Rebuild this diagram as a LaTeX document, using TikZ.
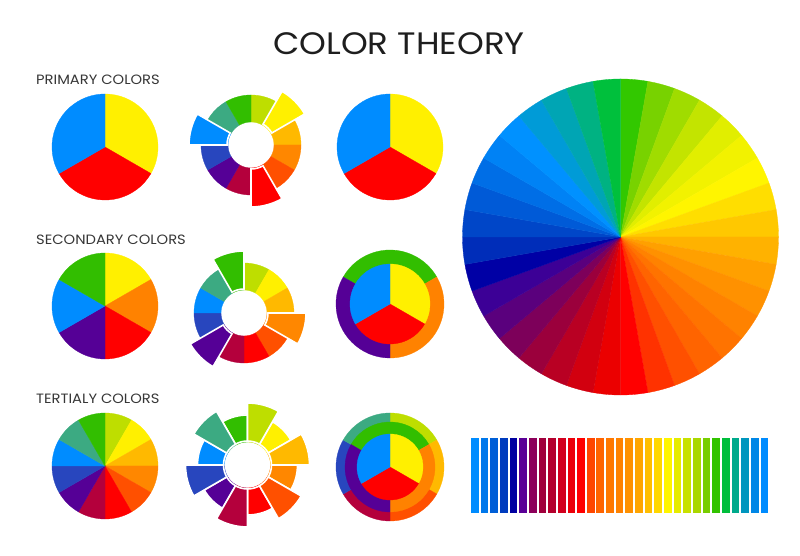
\documentclass[tikz,border=0pt]{standalone}
\usepackage{fontspec}
\setmainfont{Poppins}
\definecolor{t0}{RGB}{190,222,0}
\definecolor{t1}{RGB}{255,240,0}
\definecolor{t2}{RGB}{255,185,0}
\definecolor{t3}{RGB}{255,135,0}
\definecolor{t4}{RGB}{255,80,0}
\definecolor{t5}{RGB}{255,0,0}
\definecolor{t6}{RGB}{180,0,60}
\definecolor{t7}{RGB}{85,0,150}
\definecolor{t8}{RGB}{40,70,190}
\definecolor{t9}{RGB}{0,140,255}
\definecolor{t10}{RGB}{60,170,130}
\definecolor{t11}{RGB}{50,190,0}
\definecolor{pY}{RGB}{255,240,0}
\definecolor{pR}{RGB}{255,0,0}
\definecolor{pB}{RGB}{0,140,255}
\definecolor{sO}{RGB}{255,130,0}
\definecolor{sP}{RGB}{85,0,150}
\definecolor{sG}{RGB}{50,190,0}
\definecolor{txt}{RGB}{30,30,30}
\definecolor{txtl}{RGB}{55,55,55}
% pie wedge: color, cx, cy, a1, a2, r
\newcommand\pieseg[6]{\path[fill=#1,draw=#1,line width=0.3pt,shift={(#2,#3)}] (0,0) -- (#4:#6pt) arc[start angle=#4,end angle=#5,radius=#6pt] -- cycle;}
% ring segment: color, cx, cy, a1, a2, rin, rout
\newcommand\ringseg[7]{\path[fill=#1,draw=#1,line width=0.3pt,shift={(#2,#3)}] (#4:#6pt) -- (#4:#7pt) arc[start angle=#4,end angle=#5,radius=#7pt] -- (#5:#6pt) arc[start angle=#5,end angle=#4,radius=#6pt] -- cycle;}
% popped ring segment with white gap
\newcommand\popseg[7]{\path[fill=#1,draw=white,line width=1.6pt,shift={(#2,#3)}] (#4:#6pt) -- (#4:#7pt) arc[start angle=#4,end angle=#5,radius=#7pt] -- (#5:#6pt) arc[start angle=#5,end angle=#4,radius=#6pt] -- cycle;}
\tikzset{
  heading/.style={anchor=base west,inner sep=0pt,text=txtl,font=\fontsize{13.5}{14}\selectfont},
  titletext/.style={anchor=base,inner sep=0pt,text=txt,font=\fontsize{31}{32}\selectfont}
}
\begin{document}
\begin{tikzpicture}[x=1pt,y=1pt]
\useasboundingbox (0,0) rectangle (800,556);
\fill[white] (0,0) rectangle (800,556);

% texts
\node[titletext] (title) at (399,501) {\scalebox{1.1}[1]{COLOR THEORY}};
\node[heading] (lprim) at (36,471) {\scalebox{1.09}[1]{PRIMARY COLORS}};
\node[heading] (lsec) at (36,311) {\scalebox{1.09}[1]{SECONDARY COLORS}};
\node[heading] (lter) at (36,152) {\scalebox{1.09}[1]{TERTIALY COLORS}};

% ---- column 1 ----
% primary
\pieseg{pY}{105}{409}{90}{-30}{53}
\pieseg{pR}{105}{409}{-30}{-150}{53}
\pieseg{pB}{105}{409}{-150}{-270}{53}
% secondary
\pieseg{pY}{105}{250}{90}{30}{53}
\pieseg{sO}{105}{250}{30}{-30}{53}
\pieseg{pR}{105}{250}{-30}{-90}{53}
\pieseg{sP}{105}{250}{-90}{-150}{53}
\pieseg{pB}{105}{250}{-150}{-210}{53}
\pieseg{sG}{105}{250}{-210}{-270}{53}
% tertiary
\foreach \i in {0,...,11}{
  \pgfmathsetmacro\aa{90-30*\i}\pgfmathsetmacro\ab{60-30*\i}
  \pieseg{t\i}{105}{90}{\aa}{\ab}{53}
}

% ---- column 2 rings ----
\foreach \i in {0,...,11}{
  \pgfmathsetmacro\aa{90-30*\i}\pgfmathsetmacro\ab{60-30*\i}
  \ringseg{t\i}{251}{411}{\aa}{\ab}{23}{50}
  \ringseg{t\i}{244}{243}{\aa}{\ab}{23}{50}
  \ringseg{t\i}{247.5}{91}{\aa}{\ab}{23}{50}
}
% row 1 popped: yellow, red, blue
\foreach \i in {1,5,9}{
  \pgfmathsetmacro\aa{90-30*\i}\pgfmathsetmacro\ab{60-30*\i}
  \popseg{t\i}{251}{411}{\aa}{\ab}{24}{62}
}
% row 2 popped: orange, purple, green
\foreach \i in {3,7,11}{
  \pgfmathsetmacro\aa{90-30*\i}\pgfmathsetmacro\ab{60-30*\i}
  \popseg{t\i}{244}{243}{\aa}{\ab}{24}{62}
}
% row 3: alternate popped, all separated
\foreach \i in {1,3,5,7,9,11}{
  \pgfmathsetmacro\aa{90-30*\i}\pgfmathsetmacro\ab{60-30*\i}
  \popseg{t\i}{247.5}{91}{\aa}{\ab}{24}{50}
}
\foreach \i in {0,2,4,6,8,10}{
  \pgfmathsetmacro\aa{90-30*\i}\pgfmathsetmacro\ab{60-30*\i}
  \popseg{t\i}{247.5}{91}{\aa}{\ab}{24}{62}
}

% ---- column 3 ----
% row 1
\pieseg{pY}{390}{409}{90}{-30}{53}
\pieseg{pR}{390}{409}{-30}{-150}{53}
\pieseg{pB}{390}{409}{-150}{-270}{53}
% row 2
\ringseg{sG}{390}{252}{150}{30}{39}{54}
\ringseg{sO}{390}{252}{30}{-90}{39}{54}
\ringseg{sP}{390}{252}{-90}{-210}{39}{54}
\pieseg{pY}{390}{252}{90}{-30}{40}
\pieseg{pR}{390}{252}{-30}{-150}{40}
\pieseg{pB}{390}{252}{-150}{-270}{40}
% row 3
\ringseg{t0}{390}{89}{90}{30}{44}{54}
\ringseg{t2}{390}{89}{30}{-30}{44}{54}
\ringseg{t4}{390}{89}{-30}{-90}{44}{54}
\ringseg{t6}{390}{89}{-90}{-150}{44}{54}
\ringseg{t8}{390}{89}{-150}{-210}{44}{54}
\ringseg{t10}{390}{89}{-210}{-270}{44}{54}
\ringseg{sG}{390}{89}{150}{30}{32}{45}
\ringseg{sO}{390}{89}{30}{-90}{32}{45}
\ringseg{sP}{390}{89}{-90}{-210}{32}{45}
\pieseg{pY}{390}{89}{90}{-30}{33}
\pieseg{pR}{390}{89}{-30}{-150}{33}
\pieseg{pB}{390}{89}{-150}{-270}{33}

% ---- big wheel ----
\foreach \r/\g/\b [count=\i from 0] in {
 50/200/0, 120/210/0, 160/220/0, 195/228/0, 225/238/0, 242/242/0,
 255/245/0, 255/222/0, 255/200/0, 255/178/0, 255/160/0, 255/145/0,
 255/130/0, 255/115/0, 255/100/0, 255/80/0, 255/50/0, 255/0/0,
 235/0/0, 210/0/15, 185/0/35, 155/0/60, 125/0/90, 90/0/125,
 60/0/150, 0/0/165, 0/45/185, 0/70/200, 0/90/215, 0/110/230,
 0/130/245, 0/145/255, 0/155/215, 0/165/180, 0/178/130, 0/192/60}{
  \definecolor{bw}{RGB}{\r,\g,\b}
  \pgfmathsetmacro\aa{90-10*\i}\pgfmathsetmacro\ab{80-10*\i}
  \pieseg{bw}{620.5}{319}{\aa}{\ab}{158}
}

% ---- bar strip ----
\foreach \r/\g/\b [count=\i from 0] in {
 0/140/255, 0/120/235, 0/95/215, 0/60/190, 0/0/160, 90/0/150,
 140/0/90, 160/0/60, 180/0/45, 210/0/30, 235/0/10, 255/0/0,
 255/70/0, 255/100/0, 255/120/0, 255/130/0, 255/145/0, 255/165/0,
 255/190/0, 255/215/0, 255/245/0, 230/235/0, 200/225/0, 170/215/0,
 120/205/0, 50/195/0, 0/190/60, 0/170/140, 0/150/190, 0/135/230,
 0/140/255}{
  \definecolor{bar}{RGB}{\r,\g,\b}
  \fill[bar] (471+9.65*\i,43) rectangle ++(7.7,75);
}
\end{tikzpicture}
\end{document}
